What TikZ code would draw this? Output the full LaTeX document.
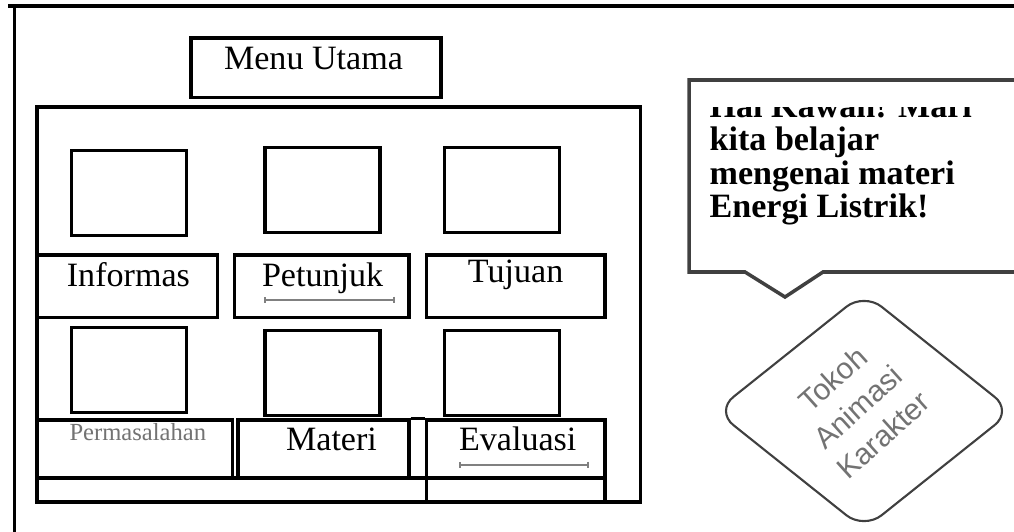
\documentclass[tikz,border=0pt]{standalone}
\usepackage{fontspec}
\setmainfont{Liberation Serif}
\setsansfont{Liberation Sans}
\usetikzlibrary{arrows.meta,positioning,calc,shapes.geometric}

\begin{document}
\begin{tikzpicture}[>=Stealth,x=0.020cm,y=-0.020cm,line width=1.9pt,
 panel/.style={draw,inner sep=0pt},
 thumb/.style={draw,inner sep=0pt,minimum width=2.300cm,minimum height=1.700cm},
 btn/.style={draw,inner sep=0pt,minimum height=1.254cm},
 btnb/.style={draw,inner sep=0pt,minimum height=1.150cm},
 lab/.style={font=\fontsize{19.4}{19.4}\selectfont,inner sep=0pt,anchor=base},
 uline/.style={draw=black!50,line width=1.2pt,{Bar[width=3.5pt]}-{Bar[width=3.5pt]}},
 bubble/.style={draw=black!75,line width=2pt},
 say/.style={font=\fontsize{19.4}{19.1}\selectfont\bfseries,align=left,inner sep=0pt,anchor=north west},
 tokoh/.style={draw=black!75,line width=1.2pt,diamond,rounded corners=0.45cm,minimum width=5.950cm,minimum height=4.750cm,inner sep=0pt},
 tlab/.style={font=\sffamily\fontsize{17}{21.5}\selectfont,text=black!55,align=center,rotate=42}]
\useasboundingbox (0,0) rectangle (1014,531);
\clip (0,0) rectangle (1014,531);
% frame
\draw (1030,6) -- (8,6);
\draw (14.7,6) -- (14.7,540);
\node[draw,inner sep=0pt,minimum width=5.000cm,minimum height=1.190cm] (menu) at (316,67.7) {};
\node[lab] at (313.5,69.4) {Menu Utama};
\node[panel,minimum width=12.072cm,minimum height=7.900cm] (main) at (338.8,304.5) {};
% gambar
\node[thumb] (t1) at (129,192.7) {};
\node[thumb] (t2) at (322.6,190.1) {};
\node[thumb] (t3) at (502.3,190.1) {};
\node[thumb] (t4) at (129,370.3) {};
\node[thumb] (t5) at (322.6,373.2) {};
\node[thumb] (t6) at (502.3,373.2) {};
% tombol baris 1
\node[btn,minimum width=3.612cm] (informas) at (127.3,286.3) {};
\node[btn,minimum width=3.484cm] (petunjuk) at (321.9,286.3) {};
\node[btn,minimum width=3.570cm] (tujuan) at (515.6,286.3) {};
\node[lab] at (128.4,286) {Informas};
\node[lab] at (322.6,286) {Petunjuk};
\node[lab] at (515.6,282.8) {Tujuan};
\draw[uline] (264.3,299.7) -- (394.8,299.7);
% tombol baris 2
\node[btnb,minimum width=3.906cm] (masalah) at (134.7,448.8) {};
\node[btnb,minimum width=3.420cm] (materi) at (323.5,448.8) {};
\node[btnb,minimum width=3.570cm] (evaluasi) at (515.6,448.8) {};
\node[draw,inner sep=0pt,minimum width=7.786cm,minimum height=0.480cm] (strip) at (231.7,490) {};
\node[draw,inner sep=0pt,minimum width=3.570cm,minimum height=0.480cm] (strip2) at (515.6,490) {};
\draw (materi.north east) -- (evaluasi.north west);
\node[lab,font=\fontsize{14}{14}\selectfont,text=black!55] at (137.8,440) {Permasalahan};
\node[lab] at (331.5,450.4) {Materi};
\node[lab] at (517.7,450.4) {Evaluasi};
\draw[uline] (458.8,464.6) -- (589.2,464.6);
% balon
\draw[bubble] (1030,80) -- (689,80) -- (689,272) -- (745,272) -- (785,297) -- (823,272) -- (1030,272);
\begin{scope}
\clip (689,107) rectangle (1014,272);
\node[say] (pesan) at (708,92) {Hai Kawan! Mari\\kita belajar\\mengenai materi\\Energi Listrik!};
\end{scope}
% tokoh
\node[tokoh] (karakter) at (864,411) {};
\node[tlab] at ([shift={(-6,-4)}]karakter.center) {Tokoh\\Animasi\\Karakter};
\end{tikzpicture}
\end{document}
